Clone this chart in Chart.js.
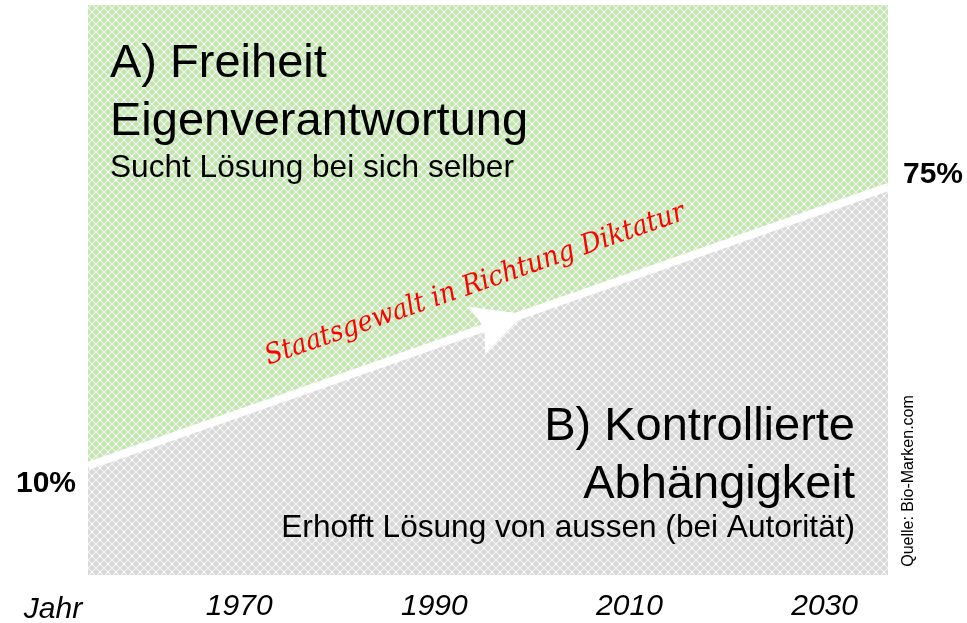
<!DOCTYPE html>
<html>
<head>
<meta charset="utf-8">
<script src="https://cdn.jsdelivr.net/npm/chart.js@4/dist/chart.umd.min.js"></script>
<style>
  html, body { margin: 0; padding: 0; background: #fff; }
  #wrap { width: 967px; height: 623px; position: relative; }
</style>
</head>
<body>
<div id="wrap"><canvas id="chart"></canvas></div>
<script>
// data
const years = [1954.5, 2036.5];
const shares = [10, 75];
const tickYears = [1970, 1990, 2010, 2030];
const arrowYear = 1999;

const FONT = "'Liberation Sans', Arial, sans-serif";

function makePattern(base) {
  const c = document.createElement('canvas');
  c.width = 8; c.height = 8;
  const g = c.getContext('2d');
  g.fillStyle = base;
  g.fillRect(0, 0, 8, 8);
  g.strokeStyle = 'rgba(255,255,255,0.7)';
  g.lineWidth = 1.2;
  g.beginPath();
  g.moveTo(0, 0); g.lineTo(8, 8);
  g.moveTo(8, 0); g.lineTo(0, 8);
  g.stroke();
  g.fillStyle = 'rgba(255,255,255,0.8)';
  g.fillRect(3, 3, 2, 2);
  return g.createPattern(c, 'repeat');
}

const points = years.map((y, i) => ({ x: y, y: shares[i] }));

const labels = {
  id: 'labels',
  afterDraw(chart) {
    const { ctx, scales: { x, y } } = chart;
    const x0 = x.getPixelForValue(years[0]), y0 = y.getPixelForValue(shares[0]);
    const x1 = x.getPixelForValue(years[1]), y1 = y.getPixelForValue(shares[1]);
    const ang = Math.atan2(y1 - y0, x1 - x0);

    // arrow head on the line
    const t = (arrowYear - years[0]) / (years[1] - years[0]);
    const ax = x.getPixelForValue(arrowYear);
    const ay = y.getPixelForValue(shares[0] + t * (shares[1] - shares[0]));
    ctx.save();
    ctx.translate(ax, ay);
    ctx.rotate(ang);
    ctx.fillStyle = '#fff';
    ctx.beginPath();
    ctx.moveTo(2, 0);
    ctx.lineTo(-48, -25);
    ctx.lineTo(-40, 0);
    ctx.lineTo(-48, 25);
    ctx.closePath();
    ctx.fill();
    ctx.restore();

    // red rotated caption
    ctx.save();
    ctx.translate(475, 285);
    ctx.rotate(ang);
    ctx.scale(0.91, 1);
    ctx.fillStyle = '#ff0000';
    ctx.font = "italic 28px 'DejaVu Serif', serif";
    ctx.textAlign = 'center';
    ctx.textBaseline = 'middle';
    ctx.fillText('Staatsgewalt in Richtung Diktatur', 0, 0);
    ctx.restore();

    ctx.save();
    ctx.fillStyle = '#000';
    ctx.textBaseline = 'alphabetic';
    ctx.textAlign = 'left';
    ctx.font = '47px ' + FONT;
    ctx.fillText('A) Freiheit', 110, 77);
    ctx.fillText('Eigenverantwortung', 110, 135);
    ctx.font = '31.6px ' + FONT;
    ctx.fillText('Sucht Lösung bei sich selber', 110, 177);

    ctx.textAlign = 'right';
    ctx.font = '47px ' + FONT;
    ctx.fillText('B) Kontrollierte', 855, 440);
    ctx.fillText('Abhängigkeit', 855, 498);
    ctx.font = '31.6px ' + FONT;
    ctx.fillText('Erhofft Lösung von aussen (bei Autorität)', 855, 537);

    // end values
    ctx.font = 'bold 30px ' + FONT;
    ctx.textAlign = 'center';
    ctx.textBaseline = 'middle';
    ctx.fillText(shares[0] + '%', 46, y0 + 18);
    ctx.fillText(shares[1] + '%', 933, y1 - 12);

    // axis word
    ctx.font = 'italic 30px ' + FONT;
    ctx.textBaseline = 'alphabetic';
    ctx.fillText('Jahr', 53, 618);

    // source
    ctx.translate(913, 481);
    ctx.rotate(-Math.PI / 2);
    ctx.font = '16px ' + FONT;
    ctx.fillText('Quelle: Bio-Marken.com', 0, 0);
    ctx.restore();
  }
};

new Chart(document.getElementById('chart'), {
  type: 'line',
  data: {
    datasets: [
      {
        data: points,
        borderColor: '#fff',
        borderWidth: 8,
        pointRadius: 0,
        fill: false
      },
      {
        data: points,
        borderWidth: 0,
        pointRadius: 0,
        fill: 'end',
        backgroundColor: makePattern('rgb(196,229,177)')
      },
      {
        data: points,
        borderWidth: 0,
        pointRadius: 0,
        fill: 'start',
        backgroundColor: makePattern('rgb(216,216,216)')
      }
    ]
  },
  options: {
    responsive: true,
    maintainAspectRatio: false,
    animation: false,
    layout: { padding: { left: 88, right: 79, top: 5, bottom: 0 } },
    plugins: { legend: { display: false }, tooltip: { enabled: false } },
    scales: {
      x: {
        type: 'linear',
        min: years[0],
        max: years[1],
        afterBuildTicks: (s) => { s.ticks = tickYears.map(v => ({ value: v })); },
        afterFit: (s) => { s.height = 48; },
        grid: { display: false, drawTicks: false },
        border: { display: false },
        ticks: {
          color: '#000',
          padding: 14,
          maxRotation: 0,
          font: { family: FONT, size: 30, style: 'italic' },
          callback: (v) => String(v)
        }
      },
      y: {
        display: false,
        min: -15.4,
        max: 117.4
      }
    }
  },
  plugins: [labels]
});
</script>
</body>
</html>
